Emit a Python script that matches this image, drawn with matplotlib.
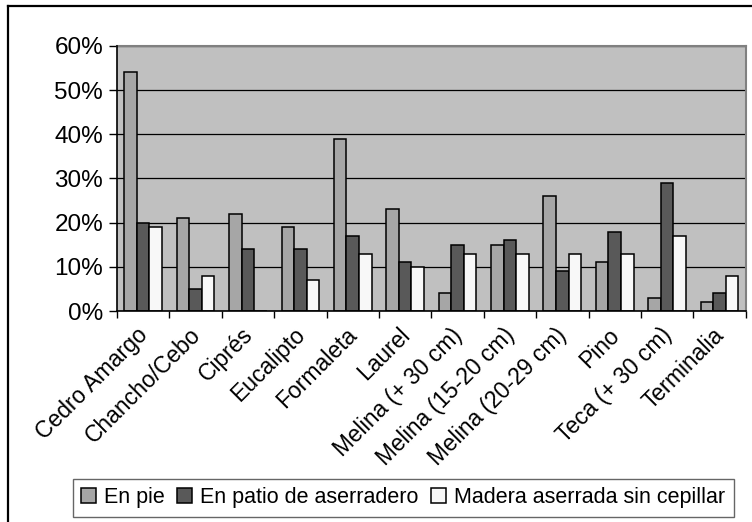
import matplotlib
matplotlib.use("Agg")
import matplotlib.pyplot as plt
import numpy as np
from matplotlib.ticker import FuncFormatter, FixedLocator
from matplotlib.lines import Line2D
from matplotlib.transforms import ScaledTranslation

plt.rcParams['font.family'] = ['Liberation Sans', 'DejaVu Sans']

categories = ["Cedro Amargo", "Chancho/Cebo", "Ciprés", "Eucalipto", "Formaleta",
              "Laurel", "Melina (+ 30 cm)", "Melina (15-20 cm)", "Melina (20-29 cm)",
              "Pino", "Teca (+ 30 cm)", "Terminalia"]
series_names = ["En pie", "En patio de aserradero", "Madera aserrada sin cepillar"]
en_pie = [54, 21, 22, 19, 39, 23, 4, 15, 26, 11, 3, 2]
en_patio = [20, 5, 14, 14, 17, 11, 15, 16, 9, 18, 29, 4]
madera = [19, 8, 0, 7, 13, 10, 13, 13, 13, 13, 17, 8]
yticks = [0, 10, 20, 30, 40, 50, 60]

colors = ["#A6A6A6", "#595959", "#F8F8F8"]

fig = plt.figure(figsize=(7.52, 5.22), dpi=100)
ax = fig.add_axes([0.1556, 0.4042, 0.9916 - 0.1556, 0.9119 - 0.4042])
ax.set_facecolor("#C0C0C0")

n = len(categories)
x = np.arange(n)
w = 0.24
handles = []
for i, (vals, c, name) in enumerate(zip([en_pie, en_patio, madera], colors, series_names)):
    v = np.array(vals) / 100.0
    b = ax.bar(x + (i - 1) * w, v, width=w, color=c, edgecolor="black",
               linewidth=1.1, zorder=3, label=name)
    handles.append(b)

ax.set_xlim(-0.5, n - 0.5)
ax.set_ylim(0, 0.6)
ax.set_yticks([t / 100 for t in yticks])
ax.yaxis.set_major_formatter(FuncFormatter(lambda v, p: f"{int(round(v*100))}%"))
ax.yaxis.grid(True, color="black", linewidth=0.9, zorder=1)
ax.set_axisbelow(True)

ax.set_xticks(x)
ax.set_xticklabels(categories, rotation=45, ha="right", rotation_mode="anchor")
ax.xaxis.set_minor_locator(FixedLocator(np.arange(-0.5, n, 1.0)))
ax.tick_params(axis="x", which="major", length=0, pad=9, labelsize=16.5)
ax.tick_params(axis="x", which="minor", length=5, width=1, direction="out", color="black")
ax.tick_params(axis="y", length=6, width=1, direction="out", labelsize=17.5, pad=4)
shift = ScaledTranslation(-7 / 100, 0, fig.dpi_scale_trans)
for lbl in ax.get_xticklabels():
    lbl.set_transform(lbl.get_transform() + shift)

for s in ["left", "bottom"]:
    ax.spines[s].set_color("black")
    ax.spines[s].set_linewidth(1.2)
    ax.spines[s].set_zorder(4)
for s in ["top", "right"]:
    ax.spines[s].set_color("#808080")
    ax.spines[s].set_linewidth(1.5)

leg = fig.legend(handles=handles, labels=series_names, loc="center",
                 bbox_to_anchor=(0.536, 0.046), ncol=3, fontsize=15.5,
                 frameon=True, fancybox=False, edgecolor="#404040",
                 handlelength=0.7, handleheight=0.7, handletextpad=0.35,
                 columnspacing=0.6, borderpad=0.4)
leg.get_frame().set_linewidth(1.0)

# outer chart border (left and top visible, extends past right/bottom edges)
fig.add_artist(Line2D([8 / 752, 8 / 752], [0, 1 - 6 / 522], transform=fig.transFigure,
                      color="black", linewidth=1.6))
fig.add_artist(Line2D([8 / 752, 1], [1 - 6 / 522, 1 - 6 / 522], transform=fig.transFigure,
                      color="black", linewidth=1.6))

fig.savefig("out.png", dpi=100)
